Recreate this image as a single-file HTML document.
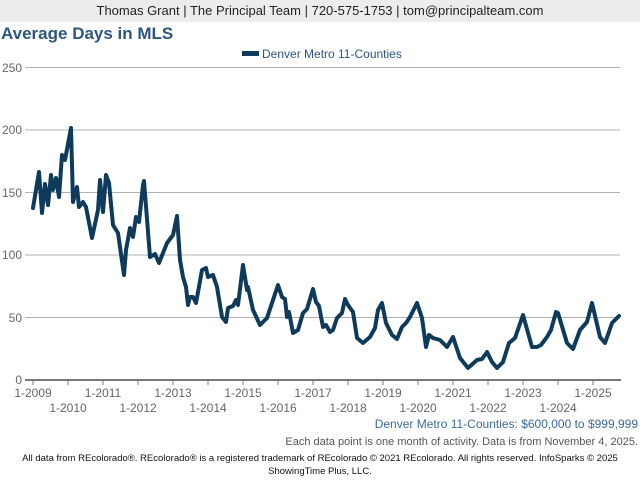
<!DOCTYPE html>
<html><head><meta charset="utf-8"><style>
body{margin:0;width:640px;height:480px;background:#fff;font-family:"Liberation Sans",sans-serif;overflow:hidden;position:relative}
.hdr{position:absolute;left:0;top:0;width:640px;height:22px;background:#ececec;text-align:center;font-size:13px;line-height:22px;color:#222}
.title{position:absolute;left:1px;top:24px;font-size:17px;font-weight:bold;color:#2c5580}
</style></head><body>
<div class="hdr">Thomas Grant | The Principal Team | 720-575-1753 | tom@principalteam.com</div>
<div class="title">Average Days in MLS</div>
<svg width="640" height="480" style="position:absolute;left:0;top:0" font-family="Liberation Sans, sans-serif">
<rect x="242" y="51" width="17" height="5" fill="#0e3a5c"/>
<text x="262" y="58" font-size="12" fill="#2c5580">Denver Metro 11-Counties</text>
<g stroke="#b0b0b0" stroke-width="1">
<line x1="25" y1="67.5" x2="620" y2="67.5"/><line x1="25" y1="130" x2="620" y2="130"/>
<line x1="25" y1="192.5" x2="620" y2="192.5"/><line x1="25" y1="255" x2="620" y2="255"/>
<line x1="25" y1="317.5" x2="620" y2="317.5"/>
</g>
<g font-size="12" fill="#666" text-anchor="end">
<text x="22" y="72">250</text><text x="22" y="134">200</text><text x="22" y="197">150</text>
<text x="22" y="259">100</text><text x="22" y="322">50</text><text x="22" y="384">0</text>
</g>
<line x1="25" y1="380" x2="621" y2="380" stroke="#777" stroke-width="2"/>
<g stroke="#777" stroke-width="1">
<line x1="33" y1="380" x2="33" y2="385"/><line x1="68" y1="380" x2="68" y2="385"/><line x1="103" y1="380" x2="103" y2="385"/><line x1="138" y1="380" x2="138" y2="385"/><line x1="173" y1="380" x2="173" y2="385"/><line x1="208" y1="380" x2="208" y2="385"/><line x1="243" y1="380" x2="243" y2="385"/><line x1="278" y1="380" x2="278" y2="385"/><line x1="313" y1="380" x2="313" y2="385"/><line x1="348" y1="380" x2="348" y2="385"/><line x1="383" y1="380" x2="383" y2="385"/><line x1="418" y1="380" x2="418" y2="385"/><line x1="453" y1="380" x2="453" y2="385"/><line x1="488" y1="380" x2="488" y2="385"/><line x1="523" y1="380" x2="523" y2="385"/><line x1="558" y1="380" x2="558" y2="385"/><line x1="593" y1="380" x2="593" y2="385"/>
</g>
<g font-size="12" fill="#666" text-anchor="middle">
<text x="33" y="397">1-2009</text><text x="103" y="397">1-2011</text><text x="173" y="397">1-2013</text><text x="243" y="397">1-2015</text><text x="313" y="397">1-2017</text><text x="383" y="397">1-2019</text><text x="453" y="397">1-2021</text><text x="523" y="397">1-2023</text><text x="593" y="397">1-2025</text>
<text x="68" y="412">1-2010</text><text x="138" y="412">1-2012</text><text x="208" y="412">1-2014</text><text x="278" y="412">1-2016</text><text x="348" y="412">1-2018</text><text x="418" y="412">1-2020</text><text x="488" y="412">1-2022</text><text x="558" y="412">1-2024</text>
</g>
<polyline fill="none" stroke="#0e3a5c" stroke-width="4" stroke-linejoin="round" stroke-linecap="round" points="33,208 39,172 42,213 45,184 48,205 51,175 53,190 56,178 59,197 62,155 65,160 71,128 73,202 77,187 79,207 83,202 86,207 92,238 98,210 100,180 103,212 106,175 109,183 113,225 118,233 124,275 126,250 130,228 133,237 136,217 139,222 143,185 144,181 150,257 155,254 159,263 167,243 173,235 177,216 180,260 183,277 186,287 188,305 190,297 193,297 196,303 202,270 206,268 208,277 213,275 217,287 222,317 226,322 228,308 233,306 236,300 238,305 243,265 247,290 248,287 253,310 260,325 267,318 272,303 278,285 282,297 285,299 287,317 289,312 293,333 298,330 303,313 307,309 313,289 316,302 319,306 323,327 326,325 330,332 333,330 337,318 342,313 345,299 348,305 353,312 357,338 363,343 370,337 375,328 378,310 382,303 386,323 392,335 397,339 402,327 406,323 410,317 417,303 422,318 426,347 429,335 433,338 440,340 447,347 453,337 460,358 468,368 477,360 482,359 487,352 492,362 497,368 503,362 509,343 515,338 523,315 532,347 537,347 541,345 547,337 551,330 556,312 558,313 567,343 573,349 580,330 587,322 592,303 600,337 605,343 612,323 619,316"/>
<text x="638" y="428" font-size="12" fill="#3d6a99" text-anchor="end">Denver Metro 11-Counties: $600,000 to $999,999</text>
<text x="638" y="445" font-size="11" fill="#555" text-anchor="end">Each data point is one month of activity. Data is from November 4, 2025.</text>
<text x="320" y="461" font-size="9.5" fill="#111" text-anchor="middle">All data from REcolorado®. REcolorado® is a registered trademark of REcolorado © 2021 REcolorado. All rights reserved. InfoSparks © 2025</text>
<text x="320" y="474" font-size="9.5" fill="#111" text-anchor="middle">ShowingTime Plus, LLC.</text>
</svg>
</body></html>
